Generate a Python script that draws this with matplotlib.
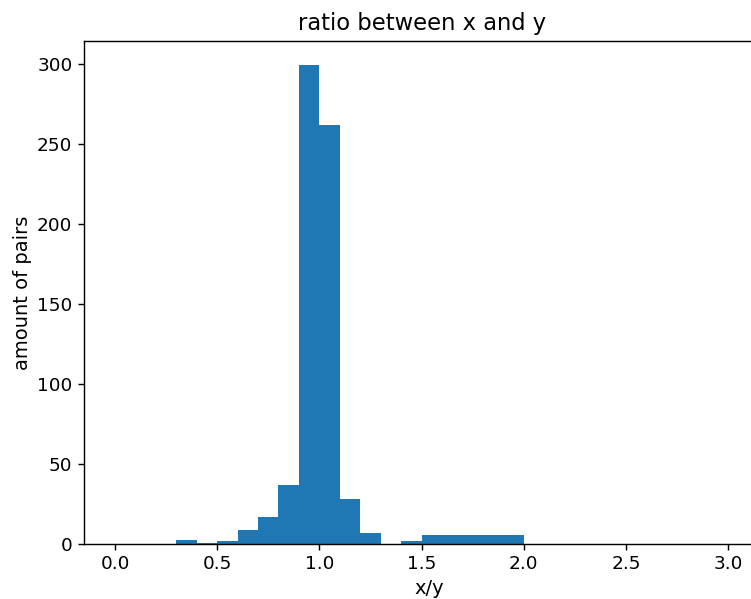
import matplotlib
matplotlib.use("Agg")
import matplotlib.pyplot as plt

# bin edges and counts
bin_edges = [0.0, 0.1, 0.2, 0.3, 0.4, 0.5, 0.6, 0.7, 0.8, 0.9, 1.0,
             1.1, 1.2, 1.3, 1.4, 1.5, 2.0, 3.08]
counts = [0, 0, 0, 3, 1, 2, 9, 17, 37, 299, 262, 28, 7, 0, 2, 6, 0]
bin_left = bin_edges[:-1]

s = 1.28
plt.rcParams['font.size'] = 13.3
plt.rcParams['axes.linewidth'] = 0.8 * s
plt.rcParams['xtick.major.size'] = 3.5 * s
plt.rcParams['ytick.major.size'] = 3.5 * s
plt.rcParams['xtick.major.width'] = 0.8 * s
plt.rcParams['ytick.major.width'] = 0.8 * s

fig = plt.figure(figsize=(7.51, 5.99), dpi=100)
# the right part of the axes runs past the figure edge, like the reference
ax = fig.add_axes([0.1112, 0.0913, 0.922, 0.8403])

ax.hist(bin_left, bins=bin_edges, weights=counts, color='#1f77b4')

ax.set_xlim(-0.154, 3.234)
ax.set_ylim(0, 314.2)
ax.set_xticks([0.0, 0.5, 1.0, 1.5, 2.0, 2.5, 3.0])
ax.set_yticks([0, 50, 100, 150, 200, 250, 300])

ax.set_title("ratio between x and y", fontsize=16.3, pad=6 * s, x=0.4895)
ax.set_xlabel("x/y", fontsize=14, labelpad=3 * s)
ax.set_ylabel("amount of pairs", fontsize=14, labelpad=3 * s)

fig.savefig("out.png", dpi=100)
